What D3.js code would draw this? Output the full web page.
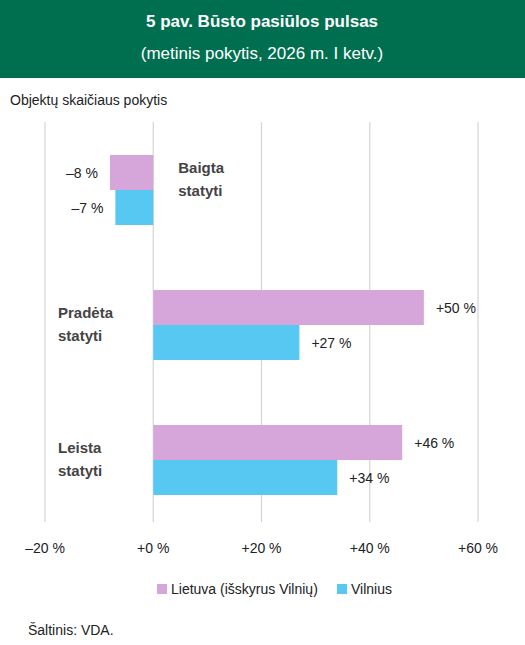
<!DOCTYPE html>
<html><head><meta charset="utf-8">
<script src="https://cdn.jsdelivr.net/npm/d3@7"></script>
<style>body{margin:0;font-family:Calibri,Carlito,"Liberation Sans",Arial,sans-serif;}</style>
</head><body><svg id="c" width="525" height="645"></svg>
<script>
const categories=["Baigta statyti","Pradėta statyti","Leista statyti"];
const seriesNames=["Lietuva (išskyrus Vilnių)","Vilnius"];
const lietuva=[-8,50,46];
const vilnius=[-7,27,34];
const ticks=[-20,0,20,40,60];
const tickLabels=["–20 %","+0 %","+20 %","+40 %","+60 %"];
const colors=["#d6a6da","#56c8f1"];
const svg=d3.select("#c");
const F="'Liberation Sans',Arial,sans-serif";
svg.append("rect").attr("width",525).attr("height",645).attr("fill","#fff");
svg.append("rect").attr("width",525).attr("height",78).attr("fill","#006f4f");
svg.append("text").attr("x",262).attr("y",27).attr("text-anchor","middle").attr("fill","#fff").attr("font-family",F).attr("font-weight","bold").attr("font-size",17).text("5 pav. Būsto pasiūlos pulsas");
svg.append("text").attr("x",262).attr("y",59).attr("text-anchor","middle").attr("fill","#fff").attr("font-family",F).attr("font-size",17).text("(metinis pokytis, 2026 m. I ketv.)");
svg.append("text").attr("x",10).attr("y",105).attr("fill","#222").attr("font-family",F).attr("font-size",14).text("Objektų skaičiaus pokytis");
const x=d3.scaleLinear().domain([-20,60]).range([45,478]);
const y=d3.scaleBand().domain(categories).range([122,527]).paddingInner(0).paddingOuter(0);
svg.selectAll("line.g").data(ticks).enter().append("line").attr("x1",d=>x(d)).attr("x2",d=>x(d)).attr("y1",122).attr("y2",522).attr("stroke","#d4d4d4").attr("stroke-width",1.2);
svg.selectAll("text.t").data(ticks).enter().append("text").attr("x",d=>x(d)).attr("y",553).attr("text-anchor","middle").attr("font-family",F).attr("font-size",14).attr("fill","#222").text((d,i)=>tickLabels[i]);
const bh=35;
[lietuva,vilnius].forEach((s,si)=>{
  categories.forEach((c,i)=>{
    const v=s[i];const y0=y(c)+33+si*bh;
    svg.append("rect").attr("x",x(Math.min(0,v))).attr("width",Math.abs(x(v)-x(0))).attr("y",y0).attr("height",bh).attr("fill",colors[si]);
    const lbl=(v<0?"–"+(-v):"+"+v)+" %";
    svg.append("text").attr("x",v<0?x(v)-12:x(v)+12).attr("y",y0+bh/2+5).attr("text-anchor",v<0?"end":"start").attr("font-family",F).attr("font-size",14).attr("fill","#222").text(lbl);
  });
});
categories.forEach((c,i)=>{
  const neg=lietuva[i]<0;const w=c.split(" ");
  const t=svg.append("text").attr("font-family",F).attr("font-size",15).attr("font-weight","bold").attr("fill","#444");
  const xx=neg?x(0)+25:58;const yy=y(c)+33+bh-5;
  w.forEach((s,k)=>t.append("tspan").attr("x",xx).attr("y",yy+k*23-12+ (neg?0:10)).text(s));
});
seriesNames.forEach((n,i)=>{
  const lx=[157,337][i];
  svg.append("rect").attr("x",lx).attr("y",584).attr("width",10).attr("height",10).attr("fill",colors[i]);
  svg.append("text").attr("x",lx+14).attr("y",594).attr("font-family",F).attr("font-size",14).attr("fill","#222").text(n);
});
svg.append("text").attr("x",28).attr("y",635).attr("font-family",F).attr("font-size",14).attr("fill","#222").text("Šaltinis: VDA.");
</script></body></html>
